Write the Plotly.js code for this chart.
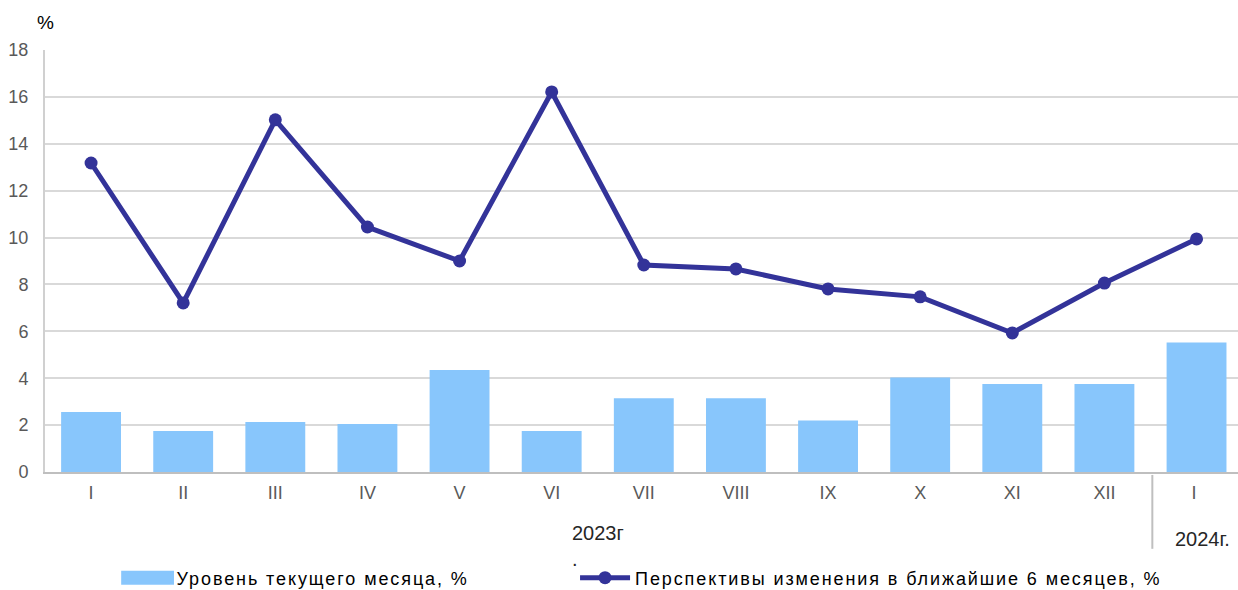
<!DOCTYPE html>
<html>
<head>
<meta charset="utf-8">
<script src="https://cdn.plot.ly/plotly-3.0.1.min.js"></script>
<style>
html,body{margin:0;padding:0;background:#fff;}
#chart{width:1238px;height:590px;}
#chart svg text.legendtext,
#chart svg g.legend2 text,
#chart svg g.legend2 tspan{letter-spacing:1.9px !important;}
#chart g.legend .legendpoints path{
  transform-box: fill-box; transform-origin: center; transform: translate(31px,0) scale(4.4,1.17);
}
</style>
</head>
<body>
<div id="chart"></div>
<script>
const months = ["I","II","III","IV","V","VI","VII","VIII","IX","X","XI","XII","I "];
const currentLevel = [2.56, 1.75, 2.13, 2.05, 4.35, 1.75, 3.15, 3.15, 2.2, 4.03, 3.75, 3.75, 5.52];
const outlook6m = [13.18, 7.21, 15.02, 10.45, 9.0, 16.21, 8.83, 8.66, 7.81, 7.47, 5.93, 8.06, 9.94];
const yTicks = [0, 2, 4, 6, 8, 10, 12, 14, 16, 18];
const barName = "Уровень текущего месяца, %";
const lineName = "Перспективы изменения в ближайшие 6 месяцев, %";
const year2023 = "2023г<br>.";
const year2024 = "2024г.";

const xIdx = months.map((_, i) => i);

const traces = [
  {
    type: "bar", x: xIdx, y: currentLevel, name: barName, legend: "legend",
    marker: {color: "#88c6fc"}, width: 0.65, hoverinfo: "y"
  },
  {
    type: "scatter", mode: "lines+markers", x: xIdx, y: outlook6m, name: lineName, legend: "legend2",
    line: {color: "#333399", width: 5}, marker: {color: "#333399", size: 13}
  }
];

const legendCommon = {
  orientation: "h", xanchor: "left", xref: "paper",
  y: 12 / 590, yref: "container", yanchor: "middle",
  font: {size: 18, color: "#000"}, itemwidth: 50, bgcolor: "rgba(0,0,0,0)",
  entrywidthmode: "pixels"
};

const layout = {
  width: 1238, height: 590,
  margin: {l: 45, r: 0, t: 50, b: 118},
  paper_bgcolor: "#fff", plot_bgcolor: "#fff",
  font: {family: "Liberation Sans, Arial, sans-serif", color: "#595959", size: 18},
  showlegend: true,
  legend: Object.assign({}, legendCommon, {x: 0.06, entrywidth: 330}),
  legend2: Object.assign({}, legendCommon, {x: 0.4443, entrywidth: 560}),
  xaxis: {
    type: "linear", range: [-0.5, 12.45], tickmode: "array", tickvals: xIdx, ticktext: months,
    showgrid: false, zeroline: false, showline: true, linecolor: "#bfbfbf", linewidth: 2,
    ticks: "", ticklabelstandoff: 3, tickfont: {size: 18, color: "#595959"}, fixedrange: true
  },
  yaxis: {
    range: [0, 18], tickmode: "array", tickvals: yTicks,
    showgrid: true, gridcolor: "#d9d9d9", gridwidth: 2,
    zeroline: false, showline: true, linecolor: "#d0d0d0", linewidth: 2,
    ticks: "", ticklabelstandoff: 11, tickfont: {size: 18, color: "#595959"}, fixedrange: true
  },
  shapes: [
    {type: "line", xref: "x", yref: "paper", x0: 11.52, x1: 11.52, y0: -0.007, y1: -0.182,
     line: {color: "#bfbfbf", width: 2}}
  ],
  annotations: [
    {text: "%", xref: "paper", yref: "paper", x: 0, y: 1.065, xanchor: "center", yanchor: "middle",
     showarrow: false, font: {size: 19, color: "#000"}},
    {text: year2023, xref: "x", yref: "paper", x: 5.5, y: -0.114, xanchor: "center", yanchor: "top",
     align: "left", showarrow: false, font: {size: 20, color: "#262626"}},
    {text: year2024, xref: "x", yref: "paper", x: 12.07, y: -0.128, xanchor: "center", yanchor: "top",
     showarrow: false, font: {size: 20, color: "#262626"}}
  ]
};

Plotly.newPlot("chart", traces, layout, {displayModeBar: false, staticPlot: true});
</script>
</body>
</html>
